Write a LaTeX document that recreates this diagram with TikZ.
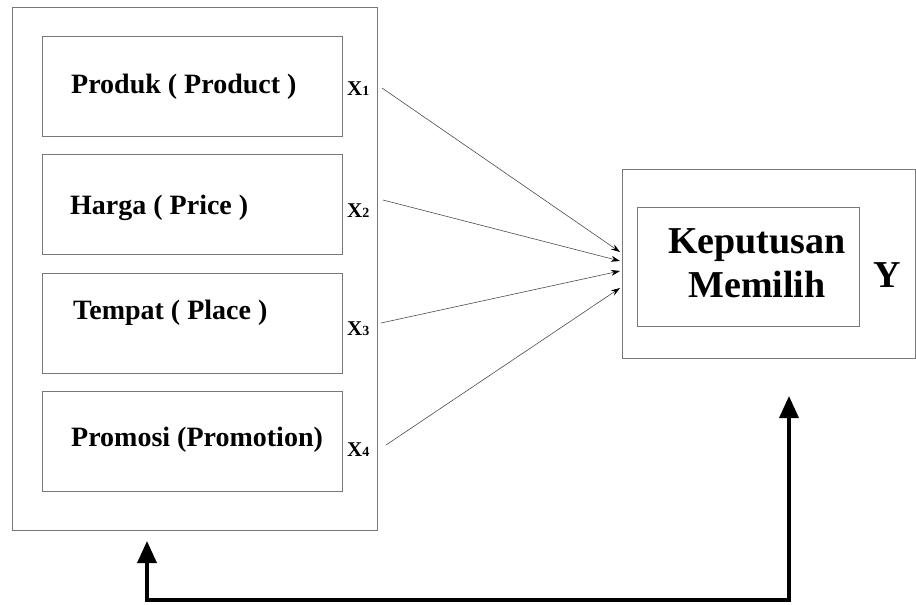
\documentclass[tikz,border=0pt]{standalone}
\usepackage{fontspec}
\setmainfont{Liberation Serif}
\usetikzlibrary{arrows.meta}
\definecolor{boxgray}{RGB}{120,120,120}
\tikzset{
  outerbox/.style={draw=boxgray, line width=1pt, anchor=north west, inner sep=0pt},
  innerbox/.style={draw=boxgray, line width=1pt, anchor=north west, inner sep=0pt},
  lbl/.style={anchor=base west, inner sep=0pt, font=\fontsize{28}{32}\selectfont\bfseries},
  xl/.style={anchor=base west, inner sep=0pt, font=\fontsize{21}{22}\selectfont\bfseries},
  thin arrow/.style={draw=black!70, line width=0.6pt, -{Stealth[length=9pt,width=6pt,black]}},
  fat arrow/.style={line width=3.5pt, {Triangle[length=22pt,width=19pt]}-{Triangle[length=22pt,width=19pt]}}
}
\newcommand{\smalldigit}[1]{{\fontsize{14}{14}\selectfont #1}}
\begin{document}
\begin{tikzpicture}[x=1pt,y=-1pt]
\useasboundingbox (0,0) rectangle (916,605);
% left outer box
\node[outerbox, minimum width=365pt, minimum height=523pt] (lbox) at (12,7) {};
% inner boxes
\node[innerbox, minimum width=300pt, minimum height=100pt] (b1) at (42,36) {};
\node[innerbox, minimum width=300pt, minimum height=100pt] (b2) at (42,154) {};
\node[innerbox, minimum width=300pt, minimum height=100pt] (b3) at (42,273) {};
\node[innerbox, minimum width=300pt, minimum height=100pt] (b4) at (42,391) {};
% texts
\node[lbl] (t1) at (71,93) {Produk ( Product )};
\node[lbl] (t2) at (70,214) {Harga ( Price )};
\node[lbl] (t3) at (73,319) {Tempat ( Place )};
\node[lbl] (t4) at (71,446) {Promosi (Promotion)};
% X labels
\node[xl] (x1) at (347,95) {X\smalldigit{1}};
\node[xl] (x2) at (347,217) {X\smalldigit{2}};
\node[xl] (x3) at (347,335) {X\smalldigit{3}};
\node[xl] (x4) at (347,456) {X\smalldigit{4}};
% right boxes
\node[outerbox, minimum width=293pt, minimum height=189pt] (rbox) at (622,169) {};
\node[innerbox, minimum width=222pt, minimum height=119pt] (kbox) at (637,207) {};
\node[anchor=base, inner sep=0pt, align=center, font=\fontsize{38}{44}\selectfont\bfseries] (kt) at (757,297) {Keputusan\\Memilih};
\node[anchor=base west, inner sep=0pt, font=\fontsize{38}{40}\selectfont\bfseries] (y) at (873,287) {Y};
% arrow coordinates
\coordinate (s1) at (382,88);
\coordinate (s2) at (383,200);
\coordinate (s3) at (381,323);
\coordinate (s4) at (386,445);
\coordinate (e1) at (620,252);
\coordinate (e2) at (620,261);
\coordinate (e3) at (620,271);
\coordinate (e4) at (620,288);
\draw[thin arrow] (s1) -- (e1);
\draw[thin arrow] (s2) -- (e2);
\draw[thin arrow] (s3) -- (e3);
\draw[thin arrow] (s4) -- (e4);
% feedback arrow
\coordinate (fa) at (147,541);
\coordinate (fb) at (789,396);
\coordinate (fc) at (147,600);
\coordinate (fd) at (789,600);
\draw[fat arrow] (fa) -- (fc) -- (fd) -- (fb);
\end{tikzpicture}
\end{document}
